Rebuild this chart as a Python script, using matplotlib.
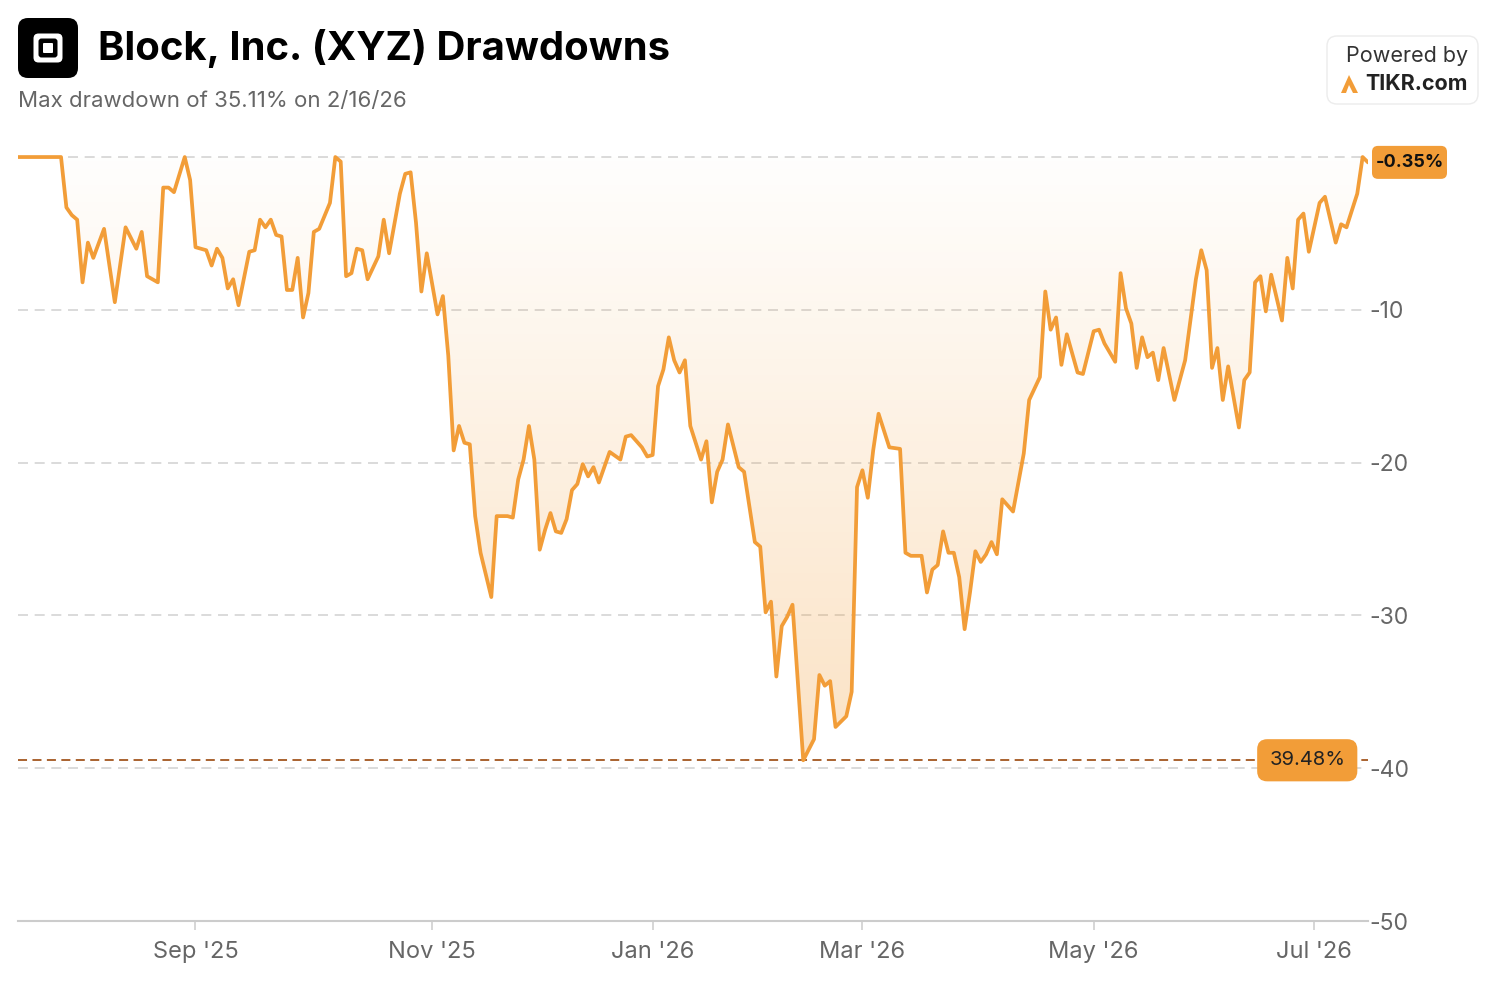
import numpy as np
import matplotlib.pyplot as plt
from matplotlib.patches import FancyBboxPatch, Polygon
from matplotlib.transforms import IdentityTransform
from matplotlib.colors import LinearSegmentedColormap

W, H = 1496, 994

# trading-session index -> drawdown (%)
days = [0, 8, 9, 10, 11, 12, 13, 14, 16, 18, 20, 22, 23, 24, 26, 27, 28, 29,
        31, 32, 33, 35, 36, 37, 38, 39, 40, 41, 43, 44, 45, 46, 47, 48, 49,
        50, 51, 52, 53, 54, 55, 56, 58, 59, 60, 61, 62, 63, 64, 65, 67, 68,
        69, 71, 72, 73, 74, 75, 76, 78, 79, 80, 81, 82, 83, 84, 85, 86, 88,
        89, 91, 92, 93, 94, 95, 96, 97, 98, 99, 100, 101, 102, 103, 104, 105,
        106, 107, 108, 109, 110, 112, 113, 114, 116, 117, 118, 119, 120, 121,
        122, 123, 124, 125, 127, 128, 129, 130, 131, 132, 134, 135, 137, 138,
        139, 140, 141, 142, 143, 144, 146, 148, 149, 150, 151, 152, 154, 155,
        156, 157, 158, 159, 160, 162, 164, 165, 166, 168, 169, 170, 171, 172,
        173, 174, 175, 176, 177, 178, 179, 180, 181, 182, 183, 185, 187, 188,
        190, 191, 192, 193, 194, 195, 197, 198, 200, 201, 202, 204, 205, 206,
        207, 208, 209, 210, 211, 212, 213, 215, 217, 219, 220, 221, 222, 223,
        224, 225, 227, 228, 229, 230, 231, 232, 233, 235, 236, 237, 238, 239,
        240, 242, 243, 245, 246, 247, 249, 250, 251]
drawdown = [0, 0, -3.3, -3.8, -4.1, -8.2, -5.6, -6.6, -4.7, -9.5, -4.6, -6.0,
            -4.9, -7.8, -8.2, -2.0, -2.0, -2.3, 0, -1.5, -5.9, -6.1, -7.1,
            -6.0, -6.6, -8.6, -8.0, -9.7, -6.2, -6.1, -4.1, -4.6, -4.1, -5.1,
            -5.2, -8.7, -8.7, -6.6, -10.5, -8.9, -4.9, -4.7, -3.0, 0, -0.3,
            -7.8, -7.6, -6.0, -6.1, -8.0, -6.5, -4.1, -6.3, -2.4, -1.1, -1.0,
            -4.3, -8.8, -6.3, -10.3, -9.1, -13.0, -19.2, -17.6, -18.7, -18.8,
            -23.5, -25.9, -28.8, -23.5, -23.5, -23.6, -21.1, -19.8, -17.6,
            -19.8, -25.7, -24.4, -23.3, -24.5, -24.6, -23.7, -21.8, -21.4,
            -20.1, -20.9, -20.3, -21.3, -20.3, -19.3, -19.8, -18.3, -18.2,
            -19.0, -19.6, -19.5, -15.0, -13.9, -11.8, -13.3, -14.1, -13.3,
            -17.6, -19.8, -18.6, -22.6, -20.6, -19.8, -17.5, -20.3, -20.6,
            -25.2, -25.5, -29.8, -29.1, -34.0, -30.7, -30.1, -29.3, -39.48,
            -38.1, -33.9, -34.6, -34.3, -37.3, -36.6, -35.0, -21.6, -20.5,
            -22.3, -19.2, -16.8, -19.0, -19.1, -25.9, -26.1, -26.1, -28.5,
            -27.0, -26.7, -24.5, -25.9, -25.9, -27.5, -30.9, -28.5, -25.8,
            -26.5, -26.0, -25.2, -26.0, -22.4, -23.2, -19.4, -15.9, -14.4,
            -8.8, -11.3, -10.5, -13.6, -11.6, -14.1, -14.2, -11.4, -11.3,
            -12.2, -13.4, -7.6, -9.9, -10.9, -13.8, -11.8, -13.1, -12.8,
            -14.6, -12.5, -15.9, -13.3, -8.0, -6.1, -7.4, -13.8, -12.5, -15.9,
            -13.7, -17.7, -14.6, -14.1, -8.2, -7.8, -10.1, -7.7, -10.7, -6.6,
            -8.6, -4.1, -3.7, -6.2, -3.0, -2.6, -5.6, -4.4, -4.6, -2.4, 0,
            -0.35]

month_ticks = [33, 77, 118, 157, 200, 241]
month_labels = ["Sep '25", "Nov '25", "Jan '26", "Mar '26", "May '26", "Jul '26"]
y_ticks = [-50, -40, -30, -20, -10]
y_labels = ["-50", "-40", "-30", "-20", "-10"]

ORANGE = "#f29d38"
GREY = "#666666"


def px(x, y):
    # top-left pixel coords -> display coords
    return x, H - y


def main():
    plt.rcParams['font.family'] = ['Inter', 'DejaVu Sans']
    fig = plt.figure(figsize=(W / 100, H / 100), dpi=100)
    fig.patch.set_facecolor("white")
    ax = fig.add_axes([18 / W, (H - 921) / H, (1368 - 18) / W, (921 - 149.4) / H])
    idt = IdentityTransform()

    x = np.array(days)
    y = np.array(drawdown)
    max_dd = y.min()

    ax.set_xlim(0, 251)
    ax.set_ylim(-50, 0.5)

    # gradient fill under the curve
    poly = ax.fill_between(x, y, 0, color="none", lw=0)
    cmap = LinearSegmentedColormap.from_list(
        "fade", [(0.95, 0.62, 0.22, 0.30), (0.95, 0.62, 0.22, 0.01)])
    grad = ax.imshow(np.linspace(0, 1, 256).reshape(-1, 1), cmap=cmap,
                     aspect="auto", extent=[0, 251, -40, 0], origin="lower",
                     zorder=1)
    grad.set_clip_path(poly.get_paths()[0], transform=ax.transData)

    for g in [0, -10, -20, -30, -40]:
        ax.axhline(g, color="#d4d4d4", lw=1.2, dashes=(6, 4), zorder=0)
    ax.axhline(max_dd, color="#a3561f", lw=1.3, dashes=(5, 3), zorder=2)

    ax.plot(x, y, color=ORANGE, lw=2.7, solid_joinstyle="round",
            solid_capstyle="round", zorder=3)

    for s in ["top", "left", "right"]:
        ax.spines[s].set_visible(False)
    ax.spines["bottom"].set_color("#cccccc")
    ax.spines["bottom"].set_linewidth(1.5)

    ax.set_xticks(month_ticks)
    ax.set_xticklabels(month_labels)
    ax.tick_params(axis="x", length=6.5, width=1.1, color="#cccccc", pad=8,
                   labelsize=17, labelcolor=GREY)
    ax.yaxis.tick_right()
    ax.set_yticks(y_ticks)
    ax.set_yticklabels(y_labels)
    ax.tick_params(axis="y", length=0, pad=1, labelsize=16.5, labelcolor=GREY)

    # last value badge
    last_y = ax.transData.transform((x[-1], y[-1]))[1]
    ax_right = ax.transAxes.transform((1, 0))[0]
    fig.patches.append(FancyBboxPatch((ax_right + 4, last_y - 16.5), 75, 33,
                                      boxstyle="round,pad=0,rounding_size=6",
                                      fc=ORANGE, ec="none", transform=idt, figure=fig))
    fig.text((ax_right + 4 + 37.5) / W, last_y / H, "%.2f%%" % y[-1], fontsize=13,
             fontweight="bold", color="#111111", ha="center", va="center")

    # max drawdown badge
    ax.annotate("%.2f%%" % -max_dd, xy=(0.955, max_dd), xycoords=("axes fraction", "data"),
                ha="center", va="center", fontsize=14.5, color="#222222",
                bbox=dict(boxstyle="round,pad=0.6,rounding_size=0.5", fc=ORANGE, ec="none"),
                zorder=5)

    # header
    fig.patches.append(FancyBboxPatch(px(18, 78), 60, 60, boxstyle="round,pad=0,rounding_size=10",
                                      fc="black", ec="none", transform=idt, figure=fig))
    fig.patches.append(FancyBboxPatch(px(33.5, 62.5), 29, 29, boxstyle="round,pad=0,rounding_size=5",
                                      fc="white", ec="none", transform=idt, figure=fig))
    fig.patches.append(FancyBboxPatch(px(38.5, 57.5), 19, 19, boxstyle="round,pad=0,rounding_size=3",
                                      fc="black", ec="none", transform=idt, figure=fig))
    fig.patches.append(FancyBboxPatch(px(43, 53), 10, 10, boxstyle="round,pad=0,rounding_size=1",
                                      fc="white", ec="none", transform=idt, figure=fig))

    fig.text(98 / W, 1 - 49 / H, "Block, Inc. (XYZ) Drawdowns", fontsize=28.8,
             fontweight="bold", color="black", va="center", ha="left")
    fig.text(18 / W, 1 - 101 / H, "Max drawdown of 35.11% on 2/16/26", fontsize=16,
             color=GREY, va="center", ha="left")

    # powered by badge
    fig.patches.append(FancyBboxPatch(px(1327, 104), 151, 68, boxstyle="round,pad=0,rounding_size=10",
                                      fc="white", ec="#ececec", lw=1, transform=idt, figure=fig))
    fig.text(1468 / W, 1 - 56 / H, "Powered by", fontsize=15.5, color="#333333",
             ha="right", va="center")
    fig.text(1468 / W, 1 - 84 / H, "TIKR.com", fontsize=15.5, fontweight="bold",
             color="#222222", ha="right", va="center")
    fig.patches.append(Polygon([px(1341, 93), px(1349, 75), px(1358, 93), px(1353, 93),
                                px(1349, 85), px(1346, 93)], closed=True, fc=ORANGE,
                               ec="none", transform=idt, figure=fig))

    fig.savefig("out.png", dpi=100)


if __name__ == '__main__':
    main()
